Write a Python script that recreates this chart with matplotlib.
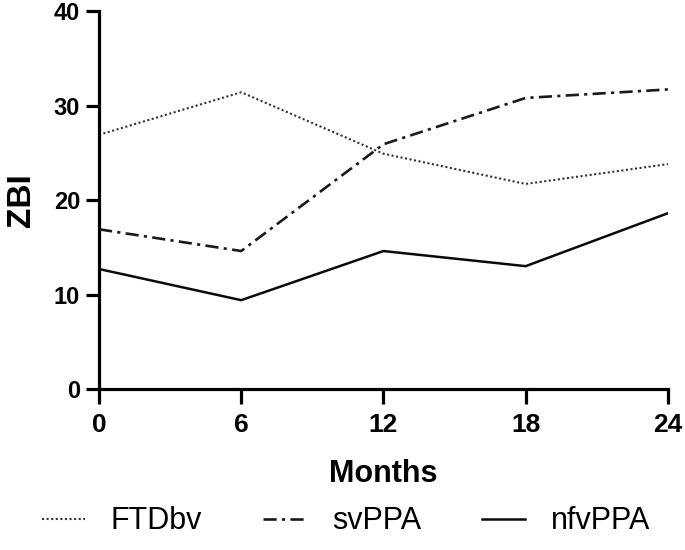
import matplotlib
matplotlib.use("Agg")
import matplotlib.pyplot as plt

plt.rcParams['font.family'] = ['Liberation Sans', 'DejaVu Sans']

# data
months = [0, 6, 12, 18, 24]
ftdbv = [26.9, 31.4, 24.9, 21.7, 23.8]
svppa = [16.9, 14.6, 25.9, 30.8, 31.7]
nfvppa = [12.7, 9.4, 14.6, 13.0, 18.6]

fig = plt.figure(figsize=(6.85, 5.5), dpi=100)
ax = fig.add_axes([0.1445, 0.2927, 0.8305, 0.6873])

ax.plot(months, ftdbv, color="#333333", linestyle=(0, (1, 1.2)), linewidth=1.5, label="FTDbv")
ax.plot(months, svppa, color="#1a1a1a", linestyle=(0, (5, 2, 1.2, 2)), linewidth=1.9, label="svPPA")
ax.plot(months, nfvppa, color="#0a0a0a", linestyle="-", linewidth=1.8, label="nfvPPA")

ax.set_xlim(0, 24)
ax.set_ylim(0, 40)
ax.set_xticks(months)
ax.set_yticks([0, 10, 20, 30, 40])

for side in ["top", "right"]:
    ax.spines[side].set_visible(False)
for side in ["left", "bottom"]:
    ax.spines[side].set_linewidth(2.3)
    ax.spines[side].set_capstyle("projecting")

ax.tick_params(axis="x", length=11, width=2.3, labelsize=19, pad=6)
ax.tick_params(axis="y", length=9.5, width=2.3, labelsize=17, pad=4)
for lab in ax.get_xticklabels() + ax.get_yticklabels():
    lab.set_fontweight("bold")

ax.set_xlabel("Months", fontsize=22, fontweight="bold", labelpad=16)
ax.set_ylabel("ZBI", fontsize=24, fontweight="bold", labelpad=12)

fig.legend(loc="center", bbox_to_anchor=(0.505, 0.052), ncol=3, frameon=False,
           fontsize=22, handlelength=1.4, handletextpad=0.85, columnspacing=2.0,
           borderpad=0.0)

fig.savefig("out.png", dpi=100)
